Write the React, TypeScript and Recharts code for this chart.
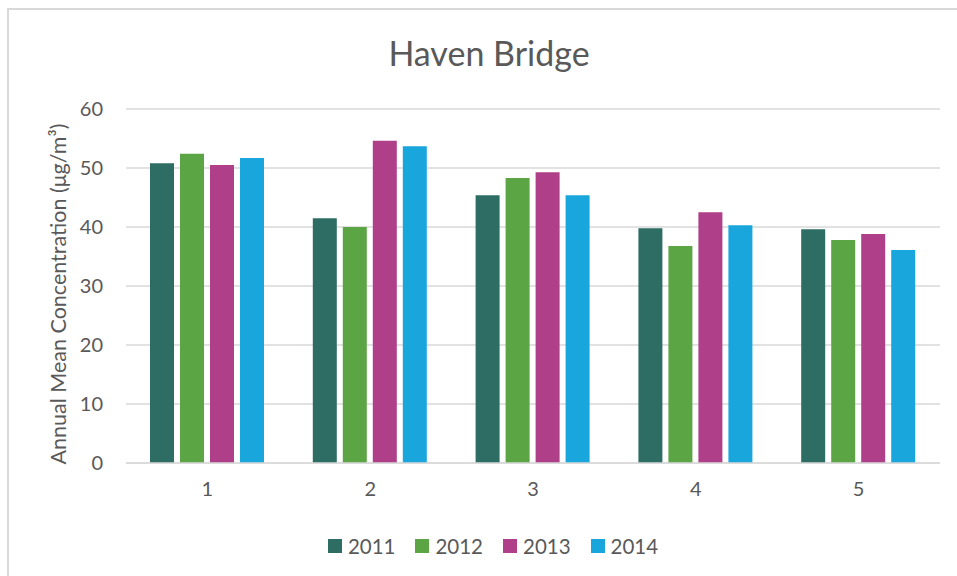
import React from "react";
import { BarChart, Bar, XAxis, YAxis, CartesianGrid } from "recharts";

const categories = ["1", "2", "3", "4", "5"];
const years = ["2011", "2012", "2013", "2014"];
const values2011 = [50.8, 41.5, 45.4, 39.8, 39.6];
const values2012 = [52.4, 40.0, 48.3, 36.8, 37.8];
const values2013 = [50.5, 54.6, 49.3, 42.5, 38.8];
const values2014 = [51.7, 53.7, 45.4, 40.3, 36.1];
const yTicks = [0, 10, 20, 30, 40, 50, 60];

const colors = ["#2D6D64", "#5BA545", "#AF3F88", "#19A6DC"];
const FONT = "Lato, 'Open Sans', sans-serif";
const TEXT = "#595959";
const GRID = "#d9d9d9";

const data = categories.map((c, i) => ({
  name: c,
  "2011": values2011[i],
  "2012": values2012[i],
  "2013": values2013[i],
  "2014": values2014[i],
}));

const YLabel = ({ viewBox }: any) => {
  const cx = viewBox.x + 58;
  const cy = viewBox.y + viewBox.height / 2 + 8;
  return (
    <text
      x={cx}
      y={cy}
      transform={`rotate(-90 ${cx} ${cy})`}
      textAnchor="middle"
      dominantBaseline="central"
      fill={TEXT}
      fontSize={21.5}
      fontFamily={FONT}
    >
      Annual Mean Concentration (μg/m³)
    </text>
  );
};

export default function App() {
  return (
    <div style={{ position: "absolute", left: 0, top: 0, width: 957, height: 576, overflow: "hidden", background: "#fff" }}>
      <div
        style={{
          position: "absolute",
          left: 7,
          top: 8,
          width: 1000,
          height: 1000,
          border: `2px solid ${GRID}`,
        }}
      />
      <div
        style={{
          position: "absolute",
          left: 0,
          width: 978,
          top: 32,
          textAlign: "center",
          fontFamily: FONT,
          fontSize: 34,
          color: TEXT,
        }}
      >
        Haven Bridge
      </div>
      <div style={{ position: "absolute", left: 0, top: 0 }}>
        <BarChart
          width={957}
          height={576}
          data={data}
          margin={{ top: 109, right: 17, bottom: 83, left: 0 }}
          barSize={24}
          barGap={6}
        >
          <CartesianGrid vertical={false} stroke={GRID} strokeWidth={1.5} />
          <XAxis
            dataKey="name"
            height={30}
            tickLine={false}
            tickSize={0}
            tickMargin={19}
            axisLine={{ stroke: GRID, strokeWidth: 1.5 }}
            tick={{ fill: TEXT, fontSize: 20, fontFamily: FONT }}
          />
          <YAxis
            width={126}
            domain={[0, 60]}
            ticks={yTicks}
            tickLine={false}
            axisLine={false}
            tickSize={0}
            tickMargin={23}
            tick={{ fill: TEXT, fontSize: 20, fontFamily: FONT }}
            label={YLabel}
          />
          {years.map((y, i) => (
            <Bar key={y} dataKey={y} fill={colors[i]} isAnimationActive={false} />
          ))}
        </BarChart>
      </div>
      <div
        style={{
          position: "absolute",
          left: 0,
          width: 986,
          top: 534,
          display: "flex",
          justifyContent: "center",
          alignItems: "center",
          fontFamily: FONT,
          fontSize: 20.5,
          color: TEXT,
        }}
      >
        {years.map((y, i) => (
          <div key={y} style={{ display: "flex", alignItems: "center", marginRight: i < years.length - 1 ? 20 : 0 }}>
            <span style={{ width: 14, height: 14, background: colors[i], display: "inline-block", marginRight: 6 }} />
            <span>{y}</span>
          </div>
        ))}
      </div>
    </div>
  );
}
